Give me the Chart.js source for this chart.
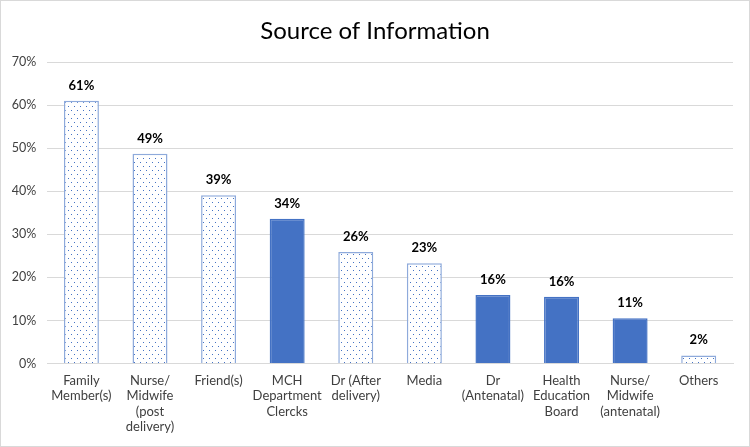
<!DOCTYPE html>
<html>
<head>
<meta charset="utf-8">
<script src="https://cdn.jsdelivr.net/npm/chart.js@4.4.1/dist/chart.umd.min.js"></script>
<style>
  html, body { margin: 0; padding: 0; background: #fff; }
  #wrap { width: 748px; height: 445px; border: 1px solid #d9d9d9; position: relative; }
</style>
</head>
<body>
<div id="wrap"><canvas id="chart" width="748" height="445"></canvas></div>
<script>
// categories and values
const categories = [
  ["Family", "Member(s)"],
  ["Nurse/", "Midwife", "(post", "delivery)"],
  ["Friend(s)"],
  ["MCH", "Department", "Clercks"],
  ["Dr (After", "delivery)"],
  ["Media"],
  ["Dr", "(Antenatal)"],
  ["Health", "Education", "Board"],
  ["Nurse/", "Midwife", "(antenatal)"],
  ["Others"]
];
const values = [61, 48.7, 39.1, 33.6, 25.9, 23.3, 15.9, 15.5, 10.5, 1.9];
const dotted = [true, true, true, false, true, true, false, false, false, true];
const yTicks = [0, 10, 20, 30, 40, 50, 60, 70];
const titleText = "Source of Information";

const blue = "#4472C4";

// dotted fill like the Office pattern
function makeDots() {
  const c = document.createElement("canvas");
  c.width = 6; c.height = 8;
  const g = c.getContext("2d");
  g.fillStyle = "#fff";
  g.fillRect(0, 0, 6, 8);
  g.fillStyle = blue;
  g.fillRect(1, 1, 1, 1);
  g.fillRect(4, 5, 1, 1);
  return g.createPattern(c, "repeat");
}

const ctx = document.getElementById("chart").getContext("2d");
const dots = makeDots();

// % labels over each bar + the centred title
const barLabels = {
  id: "barLabels",
  afterDatasetsDraw(chart) {
    const g = chart.ctx;
    const meta = chart.getDatasetMeta(0);
    g.save();
    g.font = "bold 13px Lato";
    g.fillStyle = "#000";
    g.textAlign = "center";
    g.textBaseline = "alphabetic";
    meta.data.forEach((bar, i) => {
      g.fillText(Math.round(values[i]) + "%", bar.x, bar.y - 11);
    });
    g.font = "24px Lato";
    g.textBaseline = "middle";
    g.fillText(titleText, chart.width / 2, 30);
    g.restore();
  }
};

new Chart(ctx, {
  type: "bar",
  data: {
    labels: categories,
    datasets: [{
      data: values,
      backgroundColor: dotted.map(d => d ? dots : blue),
      borderColor: dotted.map(d => d ? "#8eaadb" : blue),
      borderWidth: 1.5,
      barPercentage: 0.51,
      categoryPercentage: 1
    }]
  },
  options: {
    responsive: false,
    animation: false,
    layout: { padding: { left: 0, right: 16, top: 61, bottom: 2 } },
    plugins: {
      legend: { display: false },
      tooltip: { enabled: false },
      title: { display: false }
    },
    scales: {
      x: {
        grid: { display: false, drawTicks: false },
        border: { color: "#d9d9d9" },
        ticks: {
          font: { family: "Lato", size: 13, lineHeight: 1.2 },
          color: "#404040",
          padding: 9,
          maxRotation: 0,
          autoSkip: false
        }
      },
      y: {
        min: 0,
        max: 70,
        afterBuildTicks(axis) { axis.ticks = yTicks.map(v => ({ value: v })); },
        grid: { color: "#d9d9d9", drawTicks: false },
        border: { display: false },
        ticks: {
          font: { family: "Lato", size: 12.5 },
          color: "#404040",
          padding: 10.8,
          callback: v => v + "%"
        }
      }
    }
  },
  plugins: [barLabels]
});
</script>
</body>
</html>
